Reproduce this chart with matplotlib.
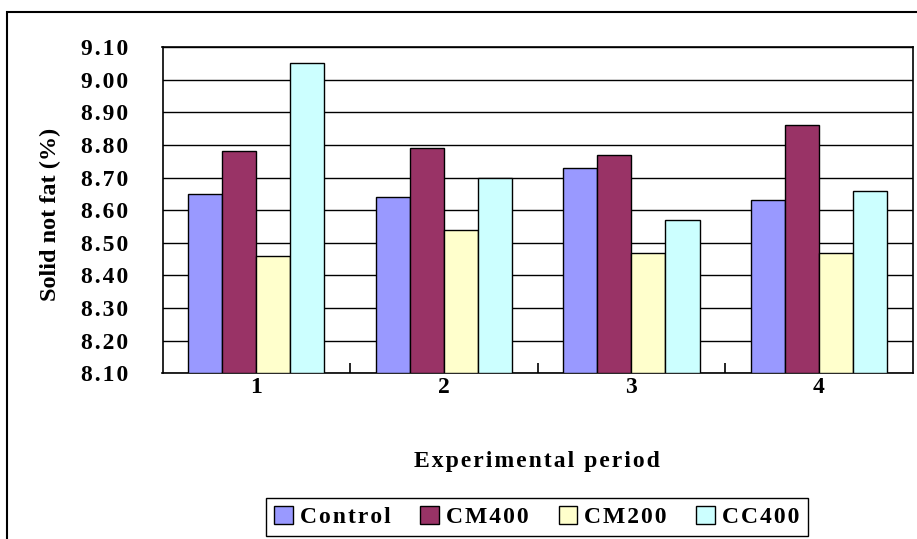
import matplotlib
matplotlib.use('Agg')
import matplotlib.pyplot as plt
from matplotlib.patches import Rectangle
import numpy as np

# 字体设置：Times 风格粗体
plt.rcParams['font.family'] = ['Liberation Serif', 'DejaVu Serif']
plt.rcParams['font.weight'] = 'bold'

# 数据
periods = ['1', '2', '3', '4']
series_names = ['Control', 'CM400', 'CM200', 'CC400']
control = [8.65, 8.64, 8.73, 8.63]
cm400 = [8.78, 8.79, 8.77, 8.86]
cm200 = [8.46, 8.54, 8.47, 8.47]
cc400 = [9.05, 8.70, 8.57, 8.66]
yticks = [8.10, 8.20, 8.30, 8.40, 8.50, 8.60, 8.70, 8.80, 8.90, 9.00, 9.10]

colors = ['#9999FF', '#993366', '#FFFFCC', '#CCFFFF']
W, H = 917, 539


def spaced(s, sp='\u200a'):
    """字符间加细空格，模拟加宽字距"""
    return sp.join(s)


fig = plt.figure(figsize=(W / 100, H / 100), dpi=100)

# 图表外框（左、上可见）
fig.patches.append(Rectangle((7 / W, -0.1), 1.2, (H - 12) / H + 0.1,
                             transform=fig.transFigure, fill=False,
                             edgecolor='black', linewidth=1.5, clip_on=False))

ax = fig.add_axes([162.5 / W, (H - 373.3) / H, (912.7 - 162.5) / W, (373.3 - 47) / H])

x = np.arange(len(periods))
w = 1 / 5.5
all_series = [control, cm400, cm200, cc400]
for i, (name, vals) in enumerate(zip(series_names, all_series)):
    ax.bar(x + (i - 1.5) * w, np.array(vals) - 8.10, bottom=8.10, width=w,
           color=colors[i], edgecolor='black', linewidth=1.0,
           label=spaced(name), zorder=3)

ax.set_xlim(-0.5, 3.5)
ax.set_ylim(8.10, 9.10)
ax.set_yticks(yticks)
ax.set_yticklabels([spaced(f'{v:.2f}') for v in yticks])
ax.yaxis.grid(True, color='black', linewidth=1.0, zorder=0)
ax.set_axisbelow(True)
ax.tick_params(axis='y', length=0, pad=25, labelsize=17)

ax.set_xticks(x)
ax.set_xticklabels(periods)
ax.tick_params(axis='x', which='major', length=0, pad=3, labelsize=17)
ax.set_xticks([0.5, 1.5, 2.5], minor=True)
ax.tick_params(axis='x', which='minor', direction='in', length=7, width=1.2)

for sp in ax.spines.values():
    sp.set_linewidth(1.2)
    sp.set_color('black')

fig.text(537 / W, 1 - 462 / H, spaced('Experimental period'),
         ha='center', va='center', fontsize=17, fontweight='bold')
fig.text(50 / W, 1 - 214 / H, 'Solid not fat (%)', ha='center', va='center',
         rotation=90, fontsize=17.5, fontweight='bold')

# 图例
leg = fig.legend(loc='center', bbox_to_anchor=(537 / W, 1 - 517 / H), ncol=4,
                 fancybox=False, edgecolor='black', framealpha=1,
                 prop={'size': 17, 'weight': 'bold'},
                 handlelength=0.8, handleheight=0.8, handletextpad=0.3,
                 columnspacing=1.25, borderpad=0.35)
leg.get_frame().set_linewidth(1.0)

fig.savefig('out.png', dpi=100)
